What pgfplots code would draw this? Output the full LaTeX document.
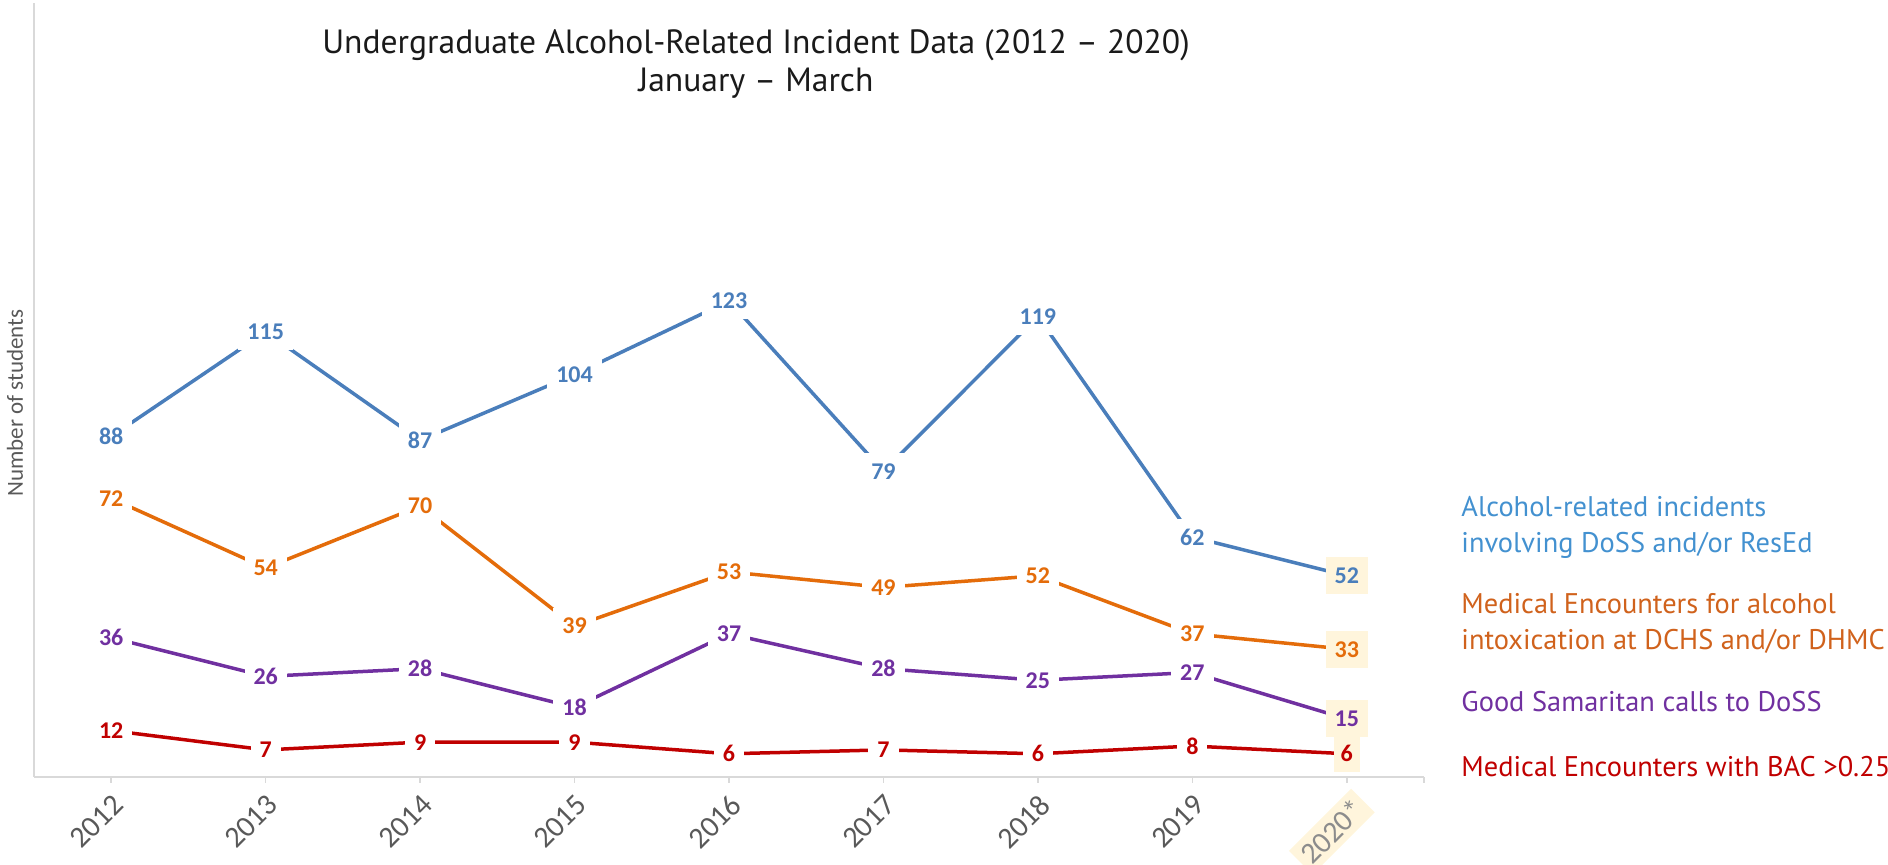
\documentclass[border=0pt]{standalone}
\usepackage{pgfplots}
\usepackage{pgfplotstable}
\pgfplotsset{compat=1.18}
\usepackage{fontspec}
\setmainfont{PT Sans}
\newfontfamily\carlito{Carlito}
\definecolor{blueL}{HTML}{4A7EBB}
\definecolor{orangeL}{HTML}{E46C0A}
\definecolor{purpleL}{HTML}{7030A0}
\definecolor{redL}{HTML}{C00000}
\definecolor{blueT}{HTML}{4391D0}
\definecolor{orangeT}{HTML}{D0621C}
\definecolor{purpleT}{HTML}{7030A0}
\definecolor{redT}{HTML}{C00000}
\definecolor{cream}{HTML}{FFF5DC}
\definecolor{axisgray}{HTML}{D9D9D9}
\definecolor{tickgray}{HTML}{595959}
\definecolor{lastgray}{HTML}{8C8C8C}
\definecolor{titleC}{HTML}{1A1A1A}

\pgfplotstableread{
x b o p r
0 88 72 36 12
1 115 54 26 7
2 87 70 28 9
3 104 39 18 9
4 123 53 37 6
5 79 49 28 7
6 119 52 25 6
7 62 37 27 8
8 52 33 15 6
}\incdata

\begin{document}
\begin{tikzpicture}
\useasboundingbox (0,0) rectangle (944pt,432.5pt);
\begin{axis}[
  at={(17pt,44pt)}, anchor=south west,
  scale only axis, width=695pt, height=387pt,
  xmin=-0.5, xmax=8.5, ymin=0, ymax=200,
  axis x line*=bottom, axis y line*=left,
  axis line style={draw=axisgray, line width=0.75pt, -},
  ytick=\empty,
  xtick={0,1,2,3,4,5,6,7,8},
  xticklabels={2012,2013,2014,2015,2016,2017,2018,2019,{\setlength{\fboxsep}{3pt}\colorbox{cream}{\textcolor{lastgray}{2020*}}\kern-3pt}},
  extra x ticks={8.5}, extra x tick labels={},
  tick align=outside, major tick length=3pt,
  xtick style={draw=axisgray, line width=0.75pt},
  extra x tick style={xtick style={draw=axisgray, line width=0.75pt}},
  xticklabel style={rotate=45, anchor=north east, font=\carlito\fontsize{15}{18}\selectfont, text=tickgray},
  clip=false,
  /pgf/number format/assume math mode=true,
  every node near coord/.append style={anchor=center, font=\carlito\bfseries\fontsize{12}{14}\selectfont, inner xsep=4.5pt, inner ysep=0pt, minimum height=18.5pt, fill=white},
]
% blue
\addplot[blueL, line width=1.75pt] table[x=x,y=b]{\incdata};
\addplot[draw=none, nodes near coords, restrict x to domain=-1:7.5, every node near coord/.append style={text=blueL}] table[x=x,y=b]{\incdata};
\addplot[draw=none, nodes near coords, restrict x to domain=7.5:8.5, every node near coord/.append style={text=blueL, fill=cream}] table[x=x,y=b]{\incdata};
% orange
\addplot[orangeL, line width=1.75pt] table[x=x,y=o]{\incdata};
\addplot[draw=none, nodes near coords, restrict x to domain=-1:7.5, every node near coord/.append style={text=orangeL}] table[x=x,y=o]{\incdata};
\addplot[draw=none, nodes near coords, restrict x to domain=7.5:8.5, every node near coord/.append style={text=orangeL, fill=cream}] table[x=x,y=o]{\incdata};
% purple
\addplot[purpleL, line width=1.75pt] table[x=x,y=p]{\incdata};
\addplot[draw=none, nodes near coords, restrict x to domain=-1:7.5, every node near coord/.append style={text=purpleL}] table[x=x,y=p]{\incdata};
\addplot[draw=none, nodes near coords, restrict x to domain=7.5:8.5, every node near coord/.append style={text=purpleL, fill=cream}] table[x=x,y=p]{\incdata};
% red
\addplot[redL, line width=1.75pt] table[x=x,y=r]{\incdata};
\addplot[draw=none, nodes near coords, restrict x to domain=-1:7.5, every node near coord/.append style={text=redL}] table[x=x,y=r]{\incdata};
\addplot[draw=none, nodes near coords, restrict x to domain=7.5:8.5, every node near coord/.append style={text=redL, fill=cream, inner xsep=3.5pt}] table[x=x,y=r]{\incdata};
\end{axis}
\node[align=center, font=\fontsize{16.8}{18.6}\selectfont, text=titleC] at (378pt,400.5pt) {Undergraduate Alcohol-Related Incident Data (2012 – 2020)\\January – March};
\node[rotate=90, font=\carlito\fontsize{11.5}{13}\selectfont, text=tickgray] at (7.5pt,231pt) {Number of students};
\node[anchor=west, align=left, text=blueT, font=\fontsize{14.2}{18}\selectfont, inner sep=0pt] at (730.5pt,169pt) {Alcohol-related incidents\\involving DoSS and/or ResEd};
\node[anchor=west, align=left, text=orangeT, font=\fontsize{14.2}{18}\selectfont, inner sep=0pt] at (730.5pt,120.75pt) {Medical Encounters for alcohol\\intoxication at DCHS and/or DHMC};
\node[anchor=west, align=left, text=purpleT, font=\fontsize{14.2}{18}\selectfont, inner sep=0pt] at (730.5pt,81.5pt) {Good Samaritan calls to DoSS};
\node[anchor=west, align=left, text=redT, font=\fontsize{14.2}{18}\selectfont, inner sep=0pt] at (730.5pt,49pt) {Medical Encounters with BAC >0.25};
\end{tikzpicture}
\end{document}
